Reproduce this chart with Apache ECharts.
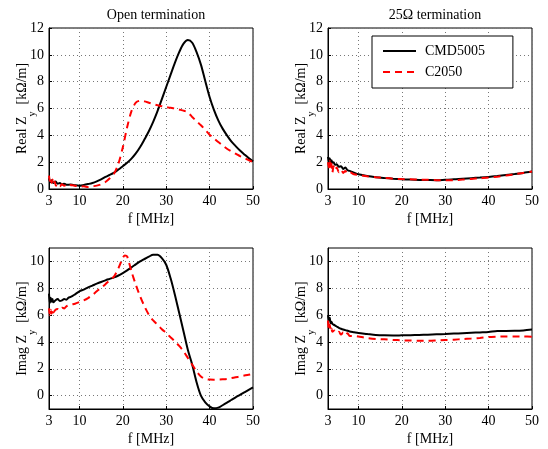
<!DOCTYPE html>
<html>
<head>
<meta charset="utf-8">
<script src="https://cdn.jsdelivr.net/npm/echarts@6/dist/echarts.min.js"></script>
<style>
html, body { margin: 0; padding: 0; background: #fff; }
#main { width: 548px; height: 449px; }
</style>
</head>
<body>
<div id="main"></div>
<script>
// tick labels
const xTicks = [3, 10, 20, 30, 40, 50];
const yTicksRe = [0, 2, 4, 6, 8, 10, 12];
const yTicksIm = [0, 2, 4, 6, 8, 10];

// Real Zy, open termination
const fReOpenCmd = [3,3.3,3.6,4,4.5,5,5.5,6,6.5,7,8,9,10,11,12,13,14,15,16,17,18,19,20,21,22,23,24,25,26,27,28,29,30,31,32,33,34,35,36,37,38,39,40,41,42,43,44,45,46,47,48,49,50];
const reOpenCmd = [0.8,0.5,0.65,0.45,0.55,0.4,0.45,0.35,0.4,0.32,0.33,0.28,0.25,0.3,0.37,0.45,0.57,0.72,0.9,1.05,1.22,1.45,1.7,1.95,2.26,2.65,3.13,3.7,4.3,5.0,5.8,6.7,7.6,8.5,9.4,10.2,10.83,11.1,10.9,10.2,9.27,8.05,6.86,5.9,5.12,4.5,4.0,3.55,3.2,2.87,2.58,2.3,2.06];
const fReOpenC = [3,3.2,3.4,3.6,3.8,4,4.3,4.6,5,5.5,6,6.5,7,7.5,8,9,10,11,12,13,14,15,16,17,18,19,20,21,22,23,24,25,26,27,28,29,30,31,32,33,34,35,36,37,38,39,40,41,42,43,44,45,46,47,48,49,50];
const reOpenC = [1.0,0.6,0.85,0.45,0.7,0.35,0.55,0.25,0.4,0.2,0.35,0.25,0.3,0.2,0.3,0.25,0.18,0.2,0.15,0.2,0.25,0.35,0.52,0.8,1.15,1.9,3.1,4.6,5.8,6.43,6.58,6.53,6.43,6.33,6.24,6.17,6.1,6.05,6.0,5.92,5.84,5.7,5.37,5.05,4.75,4.4,4.05,3.77,3.5,3.25,3.0,2.8,2.63,2.45,2.3,2.15,2.0];

// Real Zy, 25 ohm termination
const fReTerm = [3,3.2,3.4,3.6,3.8,4,4.3,4.6,5,5.5,6,6.5,7,7.5,8,9,10,12,14,16,18,20,22,24,26,28,30,32,34,36,38,40,42,44,46,48,50];
const reTermCmd = [2.4,2.1,2.3,2.0,2.15,1.95,2.0,1.8,1.85,1.65,1.7,1.5,1.6,1.4,1.35,1.22,1.1,0.97,0.88,0.82,0.77,0.73,0.7,0.68,0.67,0.66,0.69,0.72,0.77,0.81,0.85,0.9,0.97,1.05,1.12,1.2,1.3];
const reTermC = [2.0,1.6,2.1,1.5,1.9,1.2,1.7,1.4,1.6,1.25,1.45,1.2,1.35,1.15,1.25,1.1,1.05,0.95,0.88,0.82,0.77,0.74,0.72,0.7,0.69,0.66,0.65,0.66,0.7,0.75,0.8,0.85,0.92,1.0,1.1,1.2,1.3];

// Imag Zy, open termination
const fImOpenCmd = [3,3.2,3.4,3.6,3.8,4,4.5,5,5.5,6,6.5,7,7.5,8,9,10,11,12,13,14,15,16,17,18,19,20,21,22,23,24,25,26,27,28,29,30,31,32,33,34,35,36,37,38,39,40,41,42,43,44,45,46,47,48,49,50];
const imOpenCmd = [7.6,6.9,7.3,7.0,7.2,6.95,7.1,7.2,7.05,7.1,7.2,7.15,7.3,7.35,7.55,7.77,7.9,8.06,8.2,8.34,8.47,8.59,8.7,8.81,8.95,9.13,9.33,9.56,9.78,10.0,10.18,10.35,10.5,10.5,10.25,9.75,8.76,7.52,6.15,4.78,3.4,2.3,1.0,0.0,-0.5,-0.8,-0.95,-0.9,-0.72,-0.53,-0.33,-0.13,0.05,0.24,0.43,0.61];
const fImOpenC = [3,3.2,3.4,3.6,3.8,4,4.5,5,5.5,6,6.5,7,8,9,10,11,12,13,14,15,16,17,18,19,20,20.5,21,22,23,24,25,26,27,28,29,30,31,32,33,34,35,36,37,38,39,40,41,42,43,44,45,46,47,48,49,50];
const imOpenC = [6.5,6.0,6.4,6.1,6.45,6.2,6.4,6.45,6.35,6.55,6.5,6.65,6.77,6.85,6.97,7.1,7.27,7.5,7.77,8.03,8.3,8.6,8.88,9.5,10.25,10.45,10.37,9.25,8.26,7.39,6.65,6.03,5.6,5.28,4.95,4.66,4.35,4.04,3.7,3.3,2.8,2.3,1.81,1.43,1.24,1.19,1.18,1.19,1.21,1.24,1.3,1.36,1.42,1.49,1.55,1.61];

// Imag Zy, 25 ohm termination
const fImTermCmd = [3,3.2,3.4,3.6,3.8,4,4.5,5,5.5,6,7,8,9,10,12,14,16,18,20,22,24,26,28,30,32,34,36,38,40,42,44,46,48,50];
const imTermCmd = [6.0,5.6,5.8,5.4,5.5,5.35,5.25,5.15,5.05,4.98,4.88,4.78,4.72,4.66,4.59,4.52,4.49,4.48,4.49,4.5,4.52,4.54,4.57,4.59,4.62,4.65,4.68,4.71,4.74,4.82,4.82,4.83,4.86,4.92];
const fImTermC = [3,3.2,3.4,3.6,3.8,4,4.5,5,5.5,6,6.5,7,7.5,8,9,10,12,14,16,18,20,22,24,26,28,30,32,34,36,38,40,42,44,46,48,50];
const imTermC = [5.6,4.9,5.3,4.8,5.0,4.75,4.85,4.65,4.75,4.55,4.7,4.5,4.65,4.45,4.45,4.4,4.29,4.22,4.19,4.15,4.12,4.1,4.09,4.09,4.11,4.14,4.17,4.21,4.25,4.3,4.36,4.39,4.41,4.41,4.4,4.39];

const FONT = 'Liberation Serif';
const pairs = (xs, ys) => xs.map((x, i) => [x, ys[i]]);

let chart = echarts.init(document.getElementById('main'));

const grids = [
    {left: 49, top: 28, width: 204, height: 161},
    {left: 328, top: 28, width: 204, height: 161},
    {left: 49, top: 248, width: 204, height: 161},
    {left: 328, top: 248, width: 204, height: 161}
].map(g => Object.assign(g, {show: true, borderColor: '#000', borderWidth: 1, outerBoundsMode: 'none'}));

function xAxis(i) {
    return {
        type: 'value', gridIndex: i, min: 3, max: 50,
        name: 'f [MHz]', nameLocation: 'middle', nameGap: 23, nameMoveOverlap: false,
        nameTextStyle: {fontFamily: FONT, fontSize: 14, color: '#000'},
        axisLine: {onZero: false, lineStyle: {color: '#000', width: 1}},
        axisTick: {inside: true, length: 3, customValues: xTicks, lineStyle: {color: '#000'}},
        axisLabel: {customValues: xTicks, fontFamily: FONT, fontSize: 14, color: '#000', margin: 5},
        splitLine: {show: true, lineStyle: {color: '#777', type: [1, 3], width: 1}}
    };
}

function yAxis(i, label, min, max, ticks) {
    return {
        type: 'value', gridIndex: i, min: min, max: max,
        name: '{n|' + label + ' Z}{s|y}{n|  [kΩ/m]}',
        nameLocation: 'middle', nameRotate: 90, nameGap: 12, nameMoveOverlap: false,
        nameTextStyle: {
            fontFamily: FONT, color: '#000',
            rich: {
                n: {fontFamily: FONT, fontSize: 14, color: '#000', verticalAlign: 'top', lineHeight: 16},
                s: {fontFamily: FONT, fontSize: 10, color: '#000', verticalAlign: 'bottom', lineHeight: 22}
            }
        },
        axisLine: {onZero: false, lineStyle: {color: '#000', width: 1}},
        axisTick: {inside: true, length: 3, customValues: ticks, lineStyle: {color: '#000'}},
        axisLabel: {customValues: ticks, fontFamily: FONT, fontSize: 14, color: '#000', margin: 5},
        splitLine: {show: true, lineStyle: {color: '#777', type: [1, 3], width: 1}}
    };
}

function lineSeries(name, i, data) {
    const red = name === 'C2050';
    return {
        name: name, type: 'line', xAxisIndex: i, yAxisIndex: i,
        data: data, showSymbol: false, symbol: 'none', smooth: 0.3, animation: false,
        lineStyle: red ? {color: '#ff0000', width: 2, type: [7, 5]} : {color: '#000', width: 2},
        itemStyle: {color: red ? '#ff0000' : '#000'}
    };
}

option = {
    backgroundColor: '#fff',
    animation: false,
    title: [
        {text: 'Open termination', left: 151, top: 3, textAlign: 'center',
         textStyle: {fontFamily: FONT, fontSize: 14, fontWeight: 'normal', color: '#000'}},
        {text: '25Ω termination', left: 430, top: 3, textAlign: 'center',
         textStyle: {fontFamily: FONT, fontSize: 14, fontWeight: 'normal', color: '#000'}}
    ],
    legend: {
        left: 372, top: 36, orient: 'vertical',
        data: ['CMD5005', 'C2050'],
        itemWidth: 33, itemHeight: 14, itemGap: 7,
        padding: [8, 28, 9, 10],
        borderColor: '#000', borderWidth: 1, backgroundColor: '#fff',
        itemStyle: {opacity: 0},
        textStyle: {fontFamily: FONT, fontSize: 14, color: '#000', padding: [0, 0, 0, 4]}
    },
    grid: grids,
    xAxis: [xAxis(0), xAxis(1), xAxis(2), xAxis(3)],
    yAxis: [
        yAxis(0, 'Real', 0, 12, yTicksRe),
        yAxis(1, 'Real', 0, 12, yTicksRe),
        yAxis(2, 'Imag', -1, 11, yTicksIm),
        yAxis(3, 'Imag', -1, 11, yTicksIm)
    ],
    series: [
        lineSeries('CMD5005', 0, pairs(fReOpenCmd, reOpenCmd)),
        lineSeries('C2050', 0, pairs(fReOpenC, reOpenC)),
        lineSeries('CMD5005', 1, pairs(fReTerm, reTermCmd)),
        lineSeries('C2050', 1, pairs(fReTerm, reTermC)),
        lineSeries('CMD5005', 2, pairs(fImOpenCmd, imOpenCmd)),
        lineSeries('C2050', 2, pairs(fImOpenC, imOpenC)),
        lineSeries('CMD5005', 3, pairs(fImTermCmd, imTermCmd)),
        lineSeries('C2050', 3, pairs(fImTermC, imTermC))
    ]
};
chart.setOption(option);
</script>
</body>
</html>
